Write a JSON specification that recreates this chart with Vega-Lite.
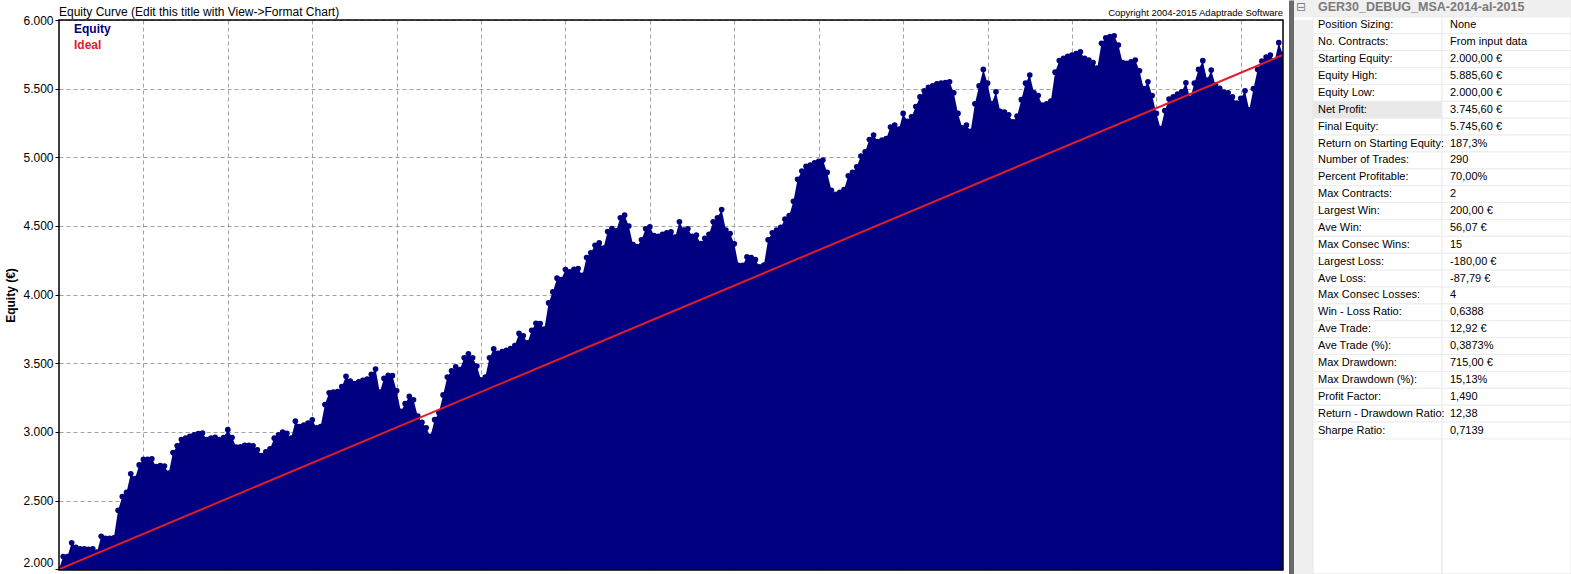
{
  "$schema": "https://vega.github.io/schema/vega-lite/v6.json",
  "background": "white",
  "padding": {"left": 4, "top": 0, "right": 0, "bottom": 0},
  "spacing": 7,
  "config": {"font": "Liberation Sans"},
  "datasets": {
    "equity": [
      {"t":0,"e":2000},{"t":1,"e":2093},{"t":2,"e":2093},{"t":3,"e":2193},{"t":4,"e":2160},{"t":5,"e":2150},{"t":6,"e":2150},{"t":7,"e":2145},{"t":8,"e":2150},{"t":9,"e":2125},
      {"t":10,"e":2240},{"t":11,"e":2225},{"t":12,"e":2225},{"t":13,"e":2230},{"t":14,"e":2430},{"t":15,"e":2530},{"t":16,"e":2560},{"t":17,"e":2695},{"t":18,"e":2660},{"t":19,"e":2760},
      {"t":20,"e":2800},{"t":21,"e":2800},{"t":22,"e":2805},{"t":23,"e":2748},{"t":24,"e":2755},{"t":25,"e":2752},{"t":26,"e":2700},{"t":27,"e":2850},{"t":28,"e":2900},{"t":29,"e":2945},
      {"t":30,"e":2955},{"t":31,"e":2968},{"t":32,"e":2980},{"t":33,"e":2988},{"t":34,"e":2992},{"t":35,"e":2945},{"t":36,"e":2955},{"t":37,"e":2962},{"t":38,"e":2945},{"t":39,"e":2960},
      {"t":40,"e":3017},{"t":41,"e":2960},{"t":42,"e":2890},{"t":43,"e":2892},{"t":44,"e":2902},{"t":45,"e":2902},{"t":46,"e":2900},{"t":47,"e":2870},{"t":48,"e":2829},{"t":49,"e":2855},
      {"t":50,"e":2878},{"t":51,"e":2955},{"t":52,"e":2980},{"t":53,"e":3000},{"t":54,"e":2990},{"t":55,"e":2955},{"t":56,"e":3079},{"t":57,"e":3040},{"t":58,"e":3050},{"t":59,"e":3065},
      {"t":60,"e":3088},{"t":61,"e":3030},{"t":62,"e":3040},{"t":63,"e":3200},{"t":64,"e":3285},{"t":65,"e":3291},{"t":66,"e":3295},{"t":67,"e":3330},{"t":68,"e":3405},{"t":69,"e":3370},
      {"t":70,"e":3352},{"t":71,"e":3365},{"t":72,"e":3376},{"t":73,"e":3386},{"t":74,"e":3420},{"t":75,"e":3458},{"t":76,"e":3290},{"t":77,"e":3390},{"t":78,"e":3412},{"t":79,"e":3410},
      {"t":80,"e":3300},{"t":81,"e":3150},{"t":82,"e":3206},{"t":83,"e":3259},{"t":84,"e":3235},{"t":85,"e":3115},{"t":86,"e":3070},{"t":87,"e":3030},{"t":88,"e":2968},{"t":89,"e":3090},
      {"t":90,"e":3140},{"t":91,"e":3270},{"t":92,"e":3400},{"t":93,"e":3445},{"t":94,"e":3475},{"t":95,"e":3455},{"t":96,"e":3540},{"t":97,"e":3570},{"t":98,"e":3540},{"t":99,"e":3480},
      {"t":100,"e":3380},{"t":101,"e":3400},{"t":102,"e":3540},{"t":103,"e":3605},{"t":104,"e":3572},{"t":105,"e":3585},{"t":106,"e":3595},{"t":107,"e":3607},{"t":108,"e":3630},{"t":109,"e":3718},
      {"t":110,"e":3700},{"t":111,"e":3650},{"t":112,"e":3740},{"t":113,"e":3792},{"t":114,"e":3790},{"t":115,"e":3750},{"t":116,"e":3940},{"t":117,"e":4020},{"t":118,"e":4120},{"t":119,"e":4110},
      {"t":120,"e":4183},{"t":121,"e":4166},{"t":122,"e":4185},{"t":123,"e":4190},{"t":124,"e":4140},{"t":125,"e":4270},{"t":126,"e":4305},{"t":127,"e":4360},{"t":128,"e":4377},{"t":129,"e":4340},
      {"t":130,"e":4460},{"t":131,"e":4482},{"t":132,"e":4465},{"t":133,"e":4560},{"t":134,"e":4579},{"t":135,"e":4500},{"t":136,"e":4365},{"t":137,"e":4350},{"t":138,"e":4400},{"t":139,"e":4480},
      {"t":140,"e":4494},{"t":141,"e":4430},{"t":142,"e":4425},{"t":143,"e":4440},{"t":144,"e":4450},{"t":145,"e":4457},{"t":146,"e":4420},{"t":147,"e":4530},{"t":148,"e":4470},{"t":149,"e":4480},
      {"t":150,"e":4425},{"t":151,"e":4433},{"t":152,"e":4372},{"t":153,"e":4410},{"t":154,"e":4440},{"t":155,"e":4530},{"t":156,"e":4560},{"t":157,"e":4620},{"t":158,"e":4470},{"t":159,"e":4445},
      {"t":160,"e":4370},{"t":161,"e":4214},{"t":162,"e":4214},{"t":163,"e":4275},{"t":164,"e":4270},{"t":165,"e":4255},{"t":166,"e":4202},{"t":167,"e":4215},{"t":168,"e":4400},{"t":169,"e":4450},
      {"t":170,"e":4470},{"t":171,"e":4490},{"t":172,"e":4550},{"t":173,"e":4575},{"t":174,"e":4680},{"t":175,"e":4840},{"t":176,"e":4900},{"t":177,"e":4935},{"t":178,"e":4943},{"t":179,"e":4960},
      {"t":180,"e":4970},{"t":181,"e":4980},{"t":182,"e":4890},{"t":183,"e":4760},{"t":184,"e":4730},{"t":185,"e":4745},{"t":186,"e":4765},{"t":187,"e":4865},{"t":188,"e":4890},{"t":189,"e":4931},
      {"t":190,"e":5010},{"t":191,"e":5040},{"t":192,"e":5130},{"t":193,"e":5162},{"t":194,"e":5115},{"t":195,"e":5125},{"t":196,"e":5137},{"t":197,"e":5220},{"t":198,"e":5235},{"t":199,"e":5205},
      {"t":200,"e":5320},{"t":201,"e":5262},{"t":202,"e":5295},{"t":203,"e":5370},{"t":204,"e":5440},{"t":205,"e":5485},{"t":206,"e":5510},{"t":207,"e":5520},{"t":208,"e":5535},{"t":209,"e":5540},
      {"t":210,"e":5545},{"t":211,"e":5550},{"t":212,"e":5470},{"t":213,"e":5320},{"t":214,"e":5215},{"t":215,"e":5235},{"t":216,"e":5190},{"t":217,"e":5390},{"t":218,"e":5520},{"t":219,"e":5640},
      {"t":220,"e":5540},{"t":221,"e":5392},{"t":222,"e":5477},{"t":223,"e":5335},{"t":224,"e":5330},{"t":225,"e":5310},{"t":226,"e":5259},{"t":227,"e":5300},{"t":228,"e":5420},{"t":229,"e":5540},
      {"t":230,"e":5599},{"t":231,"e":5470},{"t":232,"e":5450},{"t":233,"e":5380},{"t":234,"e":5390},{"t":235,"e":5410},{"t":236,"e":5620},{"t":237,"e":5705},{"t":238,"e":5720},{"t":239,"e":5735},
      {"t":240,"e":5745},{"t":241,"e":5755},{"t":242,"e":5769},{"t":243,"e":5720},{"t":244,"e":5708},{"t":245,"e":5690},{"t":246,"e":5650},{"t":247,"e":5830},{"t":248,"e":5870},{"t":249,"e":5880},
      {"t":250,"e":5885.6},{"t":251,"e":5818},{"t":252,"e":5690},{"t":253,"e":5684},{"t":254,"e":5695},{"t":255,"e":5708},{"t":256,"e":5630},{"t":257,"e":5500},{"t":258,"e":5550},{"t":259,"e":5450},
      {"t":260,"e":5320},{"t":261,"e":5210},{"t":262,"e":5340},{"t":263,"e":5425},{"t":264,"e":5441},{"t":265,"e":5460},{"t":266,"e":5477},{"t":267,"e":5543},{"t":268,"e":5429},{"t":269,"e":5540},
      {"t":270,"e":5640},{"t":271,"e":5704},{"t":272,"e":5563},{"t":273,"e":5635},{"t":274,"e":5526},{"t":275,"e":5502},{"t":276,"e":5475},{"t":277,"e":5470},{"t":278,"e":5440},{"t":279,"e":5395},
      {"t":280,"e":5429},{"t":281,"e":5485},{"t":282,"e":5345},{"t":283,"e":5500},{"t":284,"e":5640},{"t":285,"e":5700},{"t":286,"e":5730},{"t":287,"e":5745},{"t":288,"e":5700},{"t":289,"e":5835},
      {"t":290,"e":5745.6}
    ],
    "ideal": [{"t":0,"e":2000},{"t":290,"e":5745.6}],
    "header": [{"row":0,"label":"GER30_DEBUG_MSA-2014-al-2015","icon":"⊟"}],
    "stats": [
      {"row":1,"label":"Position Sizing:","value":"None"},
      {"row":2,"label":"No. Contracts:","value":"From input data"},
      {"row":3,"label":"Starting Equity:","value":"2.000,00 €"},
      {"row":4,"label":"Equity High:","value":"5.885,60 €"},
      {"row":5,"label":"Equity Low:","value":"2.000,00 €"},
      {"row":6,"label":"Net Profit:","value":"3.745,60 €"},
      {"row":7,"label":"Final Equity:","value":"5.745,60 €"},
      {"row":8,"label":"Return on Starting Equity:","value":"187,3%"},
      {"row":9,"label":"Number of Trades:","value":"290"},
      {"row":10,"label":"Percent Profitable:","value":"70,00%"},
      {"row":11,"label":"Max Contracts:","value":"2"},
      {"row":12,"label":"Largest Win:","value":"200,00 €"},
      {"row":13,"label":"Ave Win:","value":"56,07 €"},
      {"row":14,"label":"Max Consec Wins:","value":"15"},
      {"row":15,"label":"Largest Loss:","value":"-180,00 €"},
      {"row":16,"label":"Ave Loss:","value":"-87,79 €"},
      {"row":17,"label":"Max Consec Losses:","value":"4"},
      {"row":18,"label":"Win - Loss Ratio:","value":"0,6388"},
      {"row":19,"label":"Ave Trade:","value":"12,92 €"},
      {"row":20,"label":"Ave Trade (%):","value":"0,3873%"},
      {"row":21,"label":"Max Drawdown:","value":"715,00 €"},
      {"row":22,"label":"Max Drawdown (%):","value":"15,13%"},
      {"row":23,"label":"Profit Factor:","value":"1,490"},
      {"row":24,"label":"Return - Drawdown Ratio:","value":"12,38"},
      {"row":25,"label":"Sharpe Ratio:","value":"0,7139"}
    ],
    "notes": [{"title":"Equity Curve (Edit this title with View->Format Chart)","copy":"Copyright 2004-2015 Adaptrade Software"}]
  },
  "hconcat": [
    {
      "width": 1224,
      "height": 550,
      "view": {"stroke": null, "fill": "white"},
      "layer": [
        {
          "data": {"name": "equity"},
          "mark": {"type": "area", "interpolate": "linear", "clip": true, "opacity": 1},
          "encoding": {
            "x": {"field": "t", "type": "quantitative",
              "scale": {"domain": [0, 290], "nice": false, "zero": false},
              "axis": {"orient": "top", "values": [20,40,60,80,100,120,140,160,180,200,220,240,260,280], "labels": false, "ticks": false, "title": null,
                "domain": false, "grid": true, "gridColor": "#a0a0a0", "gridDash": [4,3], "gridWidth": 1, "minExtent": 20, "maxExtent": 20}},
            "y": {"field": "e", "type": "quantitative",
              "scale": {"domain": [1995, 6000], "nice": false, "zero": false},
              "axis": {"values": [2000,2500,3000,3500,4000,4500,5000,5500,6000],
                "labelExpr": "replace(format(datum.value, ',.0f'), ',', '.')",
                "title": "Equity (€)", "titleFontWeight": "bold", "titleFontSize": 12, "titleColor": "black", "titlePadding": 5,
                "labelFontSize": 12, "labelColor": "black", "labelPadding": 2,
                "labelBaseline": {"condition": {"test": "datum.value === 2000", "value": "bottom"}, "value": "middle"},
                "tickSize": 4, "tickColor": "black", "domain": false,
                "grid": true, "gridColor": "#a0a0a0", "gridDash": [4,3], "gridWidth": 1}},
            "color": {"datum": "Equity", "type": "nominal",
              "scale": {"domain": ["Equity", "Ideal"], "range": ["#000080", "#e01b2b"]},
              "legend": {"orient": "top-left", "offset": 3, "title": null, "padding": 0,
                "symbolSize": 0, "symbolOpacity": 0, "symbolStrokeWidth": 0, "labelOffset": 0,
                "labelFontSize": 12, "labelFontWeight": "bold", "rowPadding": 4,
                "encode": {"labels": {"update": {"fill": {"signal": "datum.label === 'Equity' ? '#000080' : '#e01b2b'"}}}}}}
          }
        },
        {
          "data": {"name": "equity"},
          "mark": {"type": "point", "filled": true, "size": 32, "color": "#000080", "opacity": 1, "clip": true},
          "encoding": {
            "x": {"field": "t", "type": "quantitative"},
            "y": {"field": "e", "type": "quantitative"}
          }
        },
        {
          "data": {"name": "ideal"},
          "mark": {"type": "line", "strokeWidth": 2, "clip": true},
          "encoding": {
            "x": {"field": "t", "type": "quantitative"},
            "y": {"field": "e", "type": "quantitative"},
            "color": {"datum": "Ideal", "type": "nominal"}
          }
        },
        {
          "data": {"values": [{}]},
          "mark": {"type": "rect", "fill": null, "stroke": "black", "strokeWidth": 1.5},
          "encoding": {}
        },
        {
          "data": {"name": "notes"},
          "mark": {"type": "text", "align": "left", "baseline": "alphabetic", "dy": -4, "fontSize": 12, "color": "black", "clip": false},
          "encoding": {"x": {"datum": 0, "type": "quantitative"}, "y": {"datum": 6000, "type": "quantitative"}, "text": {"field": "title", "type": "nominal"}}
        },
        {
          "data": {"name": "notes"},
          "mark": {"type": "text", "align": "right", "baseline": "alphabetic", "dy": -4, "fontSize": 9.5, "color": "black", "clip": false},
          "encoding": {"x": {"datum": 290, "type": "quantitative"}, "y": {"datum": 6000, "type": "quantitative"}, "text": {"field": "copy", "type": "nominal"}}
        }
      ]
    },
    {
      "width": 280,
      "height": 554,
      "view": {"stroke": null, "fill": "#f0f0f0"},
      "encoding": {
        "y": {"field": "row", "type": "ordinal",
          "scale": {"domain": [0,1,2,3,4,5,6,7,8,9,10,11,12,13,14,15,16,17,18,19,20,21,22,23,24,25,26,27,28,29,30,31,32,33], "paddingInner": 0, "paddingOuter": 0, "range": [-20, 554]},
          "axis": {"labels": false, "ticks": false, "title": null, "grid": false, "domain": true, "domainColor": "#6a6a6a", "domainWidth": 5, "zindex": 1}}
      },
      "layer": [
        {
          "data": {"values": [{}]},
          "mark": {"type": "rect", "fill": "white", "stroke": "#e4e4e4", "strokeWidth": 1},
          "encoding": {"y": null, "x": {"datum": "label", "type": "nominal",
            "scale": {"domain": ["label", "value"], "paddingInner": 0, "paddingOuter": 0.0853, "align": 1}, "axis": null}}
        },
        {
          "data": {"values": [{}]},
          "mark": {"type": "rect", "fill": "white", "stroke": "#e4e4e4", "strokeWidth": 1},
          "encoding": {"y": null, "x": {"datum": "value", "type": "nominal"}}
        },
        {
          "data": {"name": "header"},
          "mark": {"type": "rect", "fill": "#f0f0f0"}
        },
        {
          "data": {"name": "stats"},
          "mark": {"type": "rect", "stroke": "#ececec", "strokeWidth": 1},
          "encoding": {"x": {"datum": "label", "type": "nominal"},
            "fill": {"condition": {"test": "datum.row === 6", "value": "#e8e8e8"}, "value": "white"}}
        },
        {
          "data": {"name": "stats"},
          "mark": {"type": "rect", "fill": "white", "stroke": "#ececec", "strokeWidth": 1},
          "encoding": {"x": {"datum": "value", "type": "nominal"}}
        },
        {
          "data": {"name": "stats"},
          "mark": {"type": "text", "align": "left", "baseline": "middle", "dx": 5, "fontSize": 11, "color": "black"},
          "encoding": {"x": {"datum": "label", "type": "nominal", "bandPosition": 0}, "text": {"field": "label"}}
        },
        {
          "data": {"name": "stats"},
          "mark": {"type": "text", "align": "left", "baseline": "middle", "dx": 8, "fontSize": 11, "color": "black"},
          "encoding": {"x": {"datum": "value", "type": "nominal", "bandPosition": 0}, "text": {"field": "value"}}
        },
        {
          "data": {"name": "header"},
          "mark": {"type": "text", "align": "left", "baseline": "middle", "dx": 5, "dy": -1, "fontSize": 12.5, "fontWeight": "bold", "color": "#7a7a7a"},
          "encoding": {"x": {"datum": "label", "type": "nominal", "bandPosition": 0}, "text": {"field": "label"}}
        },
        {
          "data": {"name": "header"},
          "mark": {"type": "text", "align": "center", "baseline": "middle", "dx": -12, "dy": -1, "fontSize": 12, "font": "DejaVu Sans", "color": "#808080"},
          "encoding": {"x": {"datum": "label", "type": "nominal", "bandPosition": 0}, "text": {"field": "icon"}}
        }
      ]
    }
  ]
}
